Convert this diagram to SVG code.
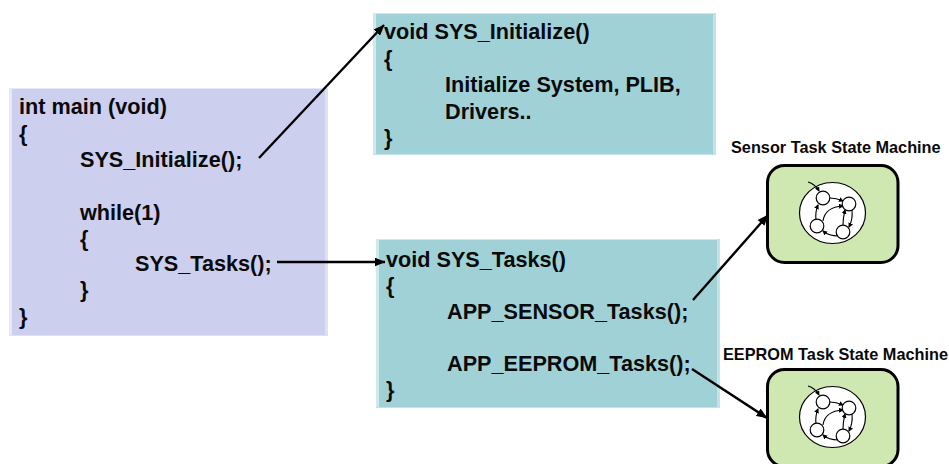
<svg xmlns="http://www.w3.org/2000/svg" width="949" height="464" viewBox="0 0 949 464">
<style>
text{font-family:"Liberation Sans",Arial,sans-serif;font-weight:bold;fill:#0a0a0a}
.code{font-size:21.65px}
.cap{font-size:16.3px}
.green{fill:#cfe8b2;stroke:#000;stroke-width:3}
.sm{fill:none;stroke:#000;stroke-width:1.100}
.st{fill:#fff;stroke:#000;stroke-width:1.200}
.con{fill:none;stroke:#000;stroke-width:2.400}
</style>
<defs>
<marker id="ah" markerUnits="userSpaceOnUse" markerWidth="11" markerHeight="9" refX="10.500" refY="4.500" orient="auto"><path d="M0 0L11 4.500L0 9Z" fill="#000"/></marker>
<marker id="sa" markerUnits="userSpaceOnUse" markerWidth="5" markerHeight="5" refX="4" refY="2.500" orient="auto"><path d="M0 0L5 2.500L0 5Z" fill="#000"/></marker>
<g id="fsm">
<ellipse class="st" cx="832.500" cy="213" rx="33" ry="30.500"/>
<path class="sm" d="M808 182Q815 184 819 191" marker-end="url(#sa)"/>
<path class="sm" d="M830 198Q836 198 843 201" marker-end="url(#sa)"/>
<path class="sm" d="M816 220Q815 212 818 205" marker-end="url(#sa)"/>
<path class="sm" d="M823 221Q825 207 843 206" marker-end="url(#sa)"/>
<path class="sm" d="M838 236Q829 236 823 231" marker-end="url(#sa)"/>
<path class="sm" d="M843 225Q843 218 845 210" marker-end="url(#sa)"/>
<path class="sm" d="M852 210Q853 219 849 227" marker-end="url(#sa)"/>
<circle class="st" cx="823" cy="198" r="6.800"/>
<circle class="st" cx="849" cy="204" r="6.800"/>
<circle class="st" cx="817" cy="226" r="6.800"/>
<circle class="st" cx="843" cy="232" r="6.800"/>
</g>
</defs>
<rect width="949" height="464" fill="#fff"/>
<g id="main-box">
<rect x="9" y="88" width="319" height="248" fill="#cdcfee"/>
<path d="M9 88H328L325 89H12V335L9 336Z" fill="#e6e7f7"/>
<path d="M328 88V336H9L12 335H325V89Z" fill="#dfe0f4"/>
<text class="code" x="19" y="113.500">int main (void)</text>
<text class="code" x="19" y="140.500">{</text>
<text class="code" x="80" y="166.500">SYS_Initialize();</text>
<text class="code" x="80" y="219.500">while(1)</text>
<text class="code" x="80" y="245.500">{</text>
<text class="code" x="135" y="270.500">SYS_Tasks();</text>
<text class="code" x="80" y="296.500">}</text>
<text class="code" x="19" y="323.500">}</text>
</g>
<g id="init-box">
<rect x="373" y="13" width="343" height="142" fill="#a0d1d7"/>
<path d="M373 13H716L713 14H376V154L373 155Z" fill="#cfe9ec"/>
<path d="M716 13V155H373L376 154H713V14Z" fill="#c4e3e7"/>
<text class="code" x="384" y="38.500">void SYS_Initialize()</text>
<text class="code" x="384" y="65.500">{</text>
<text class="code" x="445" y="91.500">Initialize System, PLIB,</text>
<text class="code" x="445" y="118.500">Drivers..</text>
<text class="code" x="384" y="144.500">}</text>
</g>
<g id="tasks-box">
<rect x="376" y="239" width="344" height="169" fill="#a0d1d7"/>
<path d="M376 239H720L717 240H379V407L376 408Z" fill="#cfe9ec"/>
<path d="M720 239V408H376L379 407H717V240Z" fill="#c4e3e7"/>
<text class="code" x="386" y="266.500">void SYS_Tasks()</text>
<text class="code" x="386" y="292.500">{</text>
<text class="code" x="447" y="318.500">APP_SENSOR_Tasks();</text>
<text class="code" x="447" y="370.500">APP_EEPROM_Tasks();</text>
<text class="code" x="386" y="396.500">}</text>
</g>
<g id="sensor-fsm">
<text class="cap" x="731" y="152.500">Sensor Task State Machine</text>
<rect class="green" x="767.500" y="165.500" width="130.500" height="97" rx="17"/>
<use href="#fsm"/>
</g>
<g id="eeprom-fsm">
<text class="cap" x="723" y="359.500">EEPROM Task State Machine</text>
<rect class="green" x="767.500" y="369.500" width="130.500" height="97" rx="17"/>
<use href="#fsm" y="204"/>
</g>
<g id="connectors">
<path class="con" d="M259 158L384 25" marker-end="url(#ah)"/>
<path class="con" d="M277 262H385" marker-end="url(#ah)"/>
<path class="con" d="M693 300L768 215" marker-end="url(#ah)"/>
<path class="con" d="M692 369L767 418" marker-end="url(#ah)"/>
</g>
</svg>
